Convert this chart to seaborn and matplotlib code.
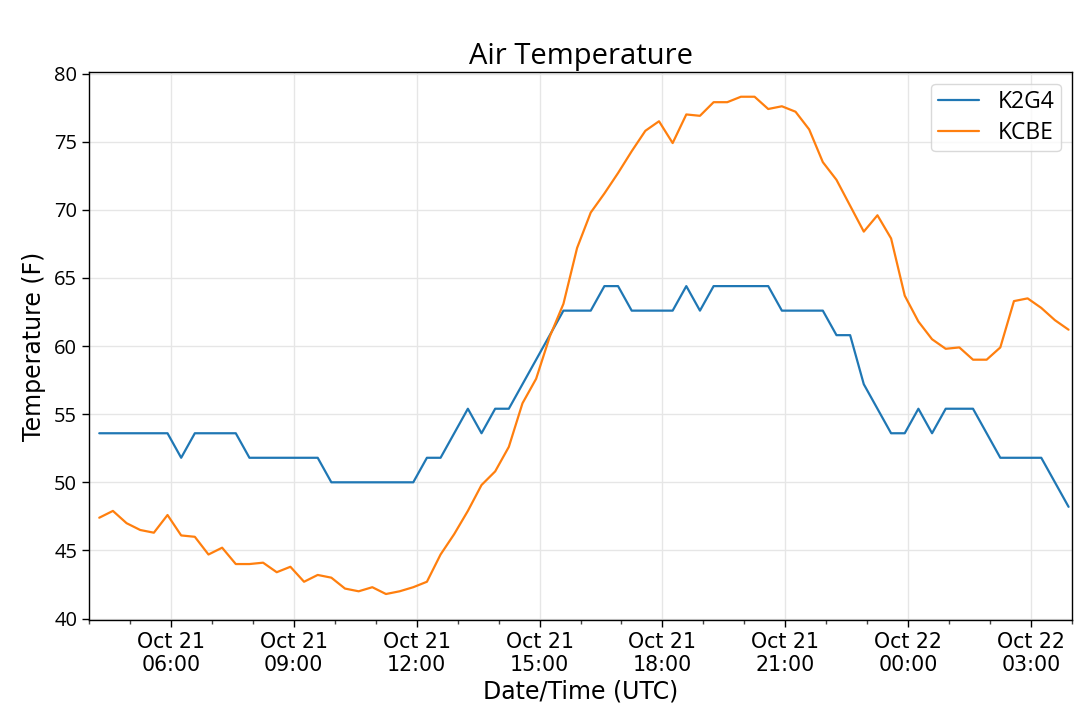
import numpy as np
import pandas as pd
import matplotlib
matplotlib.use("Agg")
import matplotlib.pyplot as plt
import matplotlib.dates as mdates
import seaborn as sns

# ---- data (20-minute observations) ----
start_time = "2019-10-21 04:15"
n_obs = 72
k2g4 = [53.6, 53.6, 53.6, 53.6, 53.6, 53.6, 51.8, 53.6, 53.6, 53.6,
        53.6, 51.8, 51.8, 51.8, 51.8, 51.8, 51.8, 50.0, 50.0, 50.0,
        50.0, 50.0, 50.0, 50.0, 51.8, 51.8, 53.6, 55.4, 53.6, 55.4,
        55.4, 57.2, 59.0, 60.8, 62.6, 62.6, 62.6, 64.4, 64.4, 62.6,
        62.6, 62.6, 62.6, 64.4, 62.6, 64.4, 64.4, 64.4, 64.4, 64.4,
        62.6, 62.6, 62.6, 62.6, 60.8, 60.8, 57.2, 55.4, 53.6, 53.6,
        55.4, 53.6, 55.4, 55.4, 55.4, 53.6, 51.8, 51.8, 51.8, 51.8,
        50.0, 48.2]
kcbe = [47.4, 47.9, 47.0, 46.5, 46.3, 47.6, 46.1, 46.0, 44.7, 45.2,
        44.0, 44.0, 44.1, 43.4, 43.8, 42.7, 43.2, 43.0, 42.2, 42.0,
        42.3, 41.8, 42.0, 42.3, 42.7, 44.7, 46.2, 47.9, 49.8, 50.8,
        52.6, 55.8, 57.6, 60.7, 63.1, 67.2, 69.8, 71.2, 72.7, 74.3,
        75.8, 76.5, 74.9, 77.0, 76.9, 77.9, 77.9, 78.3, 78.3, 77.4,
        77.6, 77.2, 75.9, 73.5, 72.2, 70.3, 68.4, 69.6, 67.9, 63.7,
        61.8, 60.5, 59.8, 59.9, 59.0, 59.0, 59.9, 63.3, 63.5, 62.8,
        61.9, 61.2]
stations = ["K2G4", "KCBE"]
y_ticks = [40, 45, 50, 55, 60, 65, 70, 75, 80]

times = pd.date_range(start_time, periods=n_obs, freq="20min")
df = pd.concat([
    pd.DataFrame({"time": times, "temp": k2g4, "station": stations[0]}),
    pd.DataFrame({"time": times, "temp": kcbe, "station": stations[1]}),
], ignore_index=True)

sns.set_style("ticks")
plt.rcParams["font.family"] = ["Open Sans", "DejaVu Sans"]
plt.rcParams["text.color"] = "black"
plt.rcParams["axes.labelcolor"] = "black"
plt.rcParams["xtick.color"] = "black"
plt.rcParams["ytick.color"] = "black"
plt.rcParams["axes.edgecolor"] = "black"

fig = plt.figure(figsize=(10.79, 7.15), dpi=100)
ax = fig.add_axes([0.0825, 0.133, 0.9935 - 0.0825, 0.899 - 0.133])

sns.lineplot(data=df, x="time", y="temp", hue="station",
             palette=["#1f77b4", "#ff7f0e"], linewidth=1.6, ax=ax)

ax.set_xlim(pd.Timestamp("2019-10-21 04:00"), pd.Timestamp("2019-10-22 04:00"))
ax.set_ylim(39.9, 80.1)
ax.set_yticks(y_ticks)

ax.xaxis.set_major_locator(mdates.HourLocator(byhour=range(0, 24, 3)))
ax.xaxis.set_minor_locator(mdates.HourLocator())
ax.xaxis.set_major_formatter(mdates.DateFormatter("%b %d\n%H:%M"))

ax.grid(True, which="major", color="#e6e6e6", linewidth=1.0)
ax.set_axisbelow(True)
for s in ax.spines.values():
    s.set_visible(True)
    s.set_color("black")
    s.set_linewidth(1.0)

ax.tick_params(axis="both", which="major", length=5, width=1, color="black",
               labelcolor="black", direction="out")
ax.tick_params(axis="x", which="minor", length=3, width=1, color="#444444")
for lab in ax.get_xticklabels():
    lab.set_family("DejaVu Sans")
    lab.set_fontsize(14.8)
for lab in ax.get_yticklabels():
    lab.set_family("Open Sans")
    lab.set_fontsize(14.5)

ax.set_title("Air Temperature", fontsize=21, family="Open Sans", pad=6,
             color="black")
ax.set_xlabel("Date/Time (UTC)", fontsize=17, family="DejaVu Sans",
              labelpad=3, color="black")
ax.set_ylabel("Temperature (F)", fontsize=17, family="DejaVu Sans",
              labelpad=6, color="black")

handles, labels = ax.get_legend_handles_labels()
leg = ax.legend(handles, labels, loc="upper right",
                prop={"family": "Open Sans", "size": 16.5},
                handlelength=1.8, labelspacing=0.3, borderpad=0.28,
                frameon=True, fancybox=True)
leg.get_frame().set_edgecolor("#d0d0d0")
for t in leg.get_texts():
    t.set_color("black")
for h in leg.get_lines():
    h.set_linewidth(1.6)

fig.savefig("out.png", dpi=100)
